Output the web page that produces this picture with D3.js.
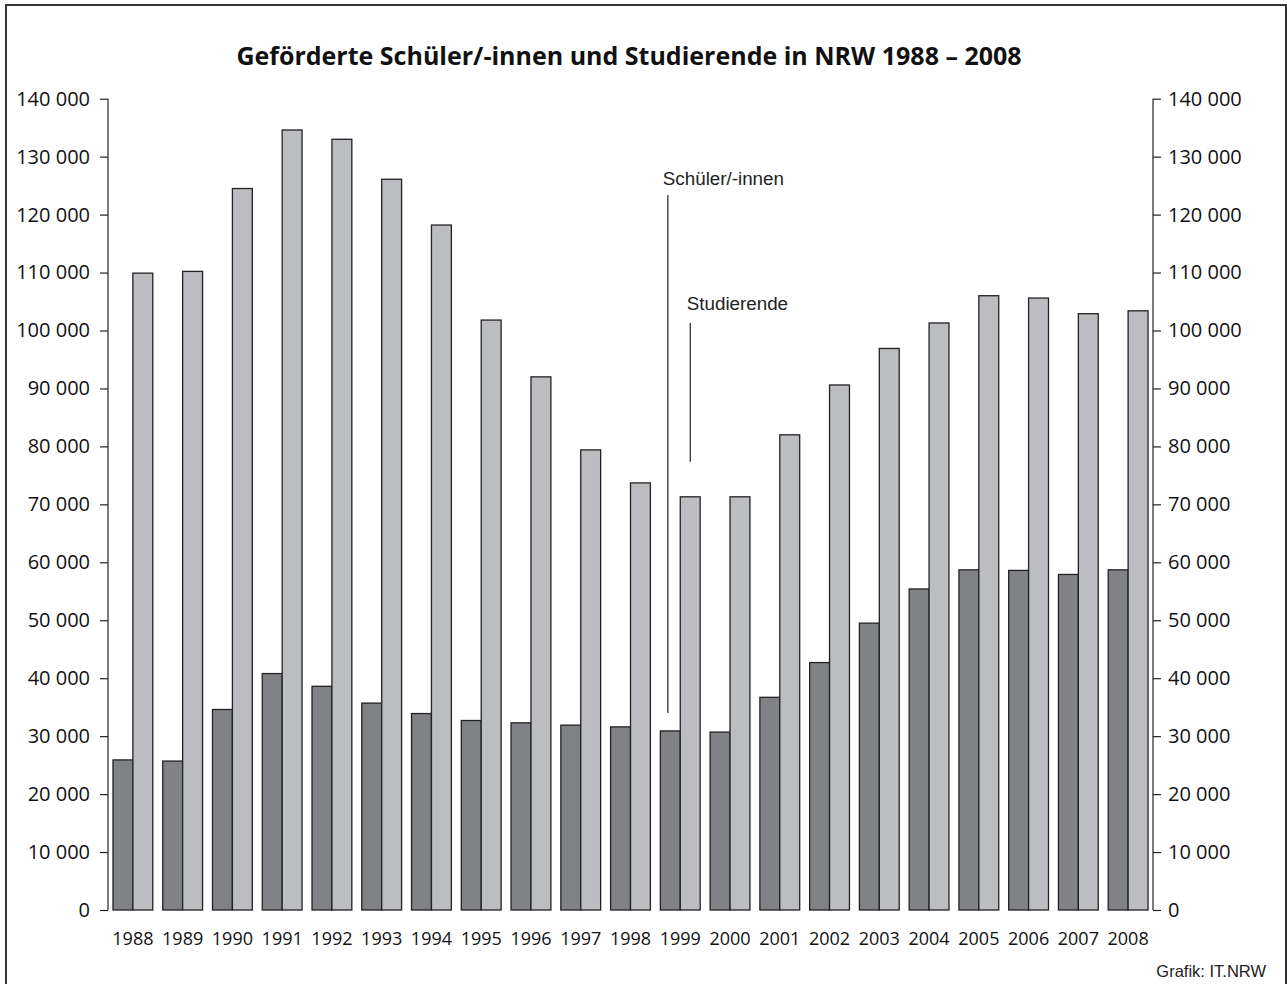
<!DOCTYPE html>
<html>
<head>
<meta charset="utf-8">
<script src="https://cdn.jsdelivr.net/npm/d3@7"></script>
<style>
  html, body { margin: 0; padding: 0; background: #fff; }
  svg { display: block; }
</style>
</head>
<body>
<svg id="chart" width="1287" height="984"></svg>
<script>
const years = ["1988","1989","1990","1991","1992","1993","1994","1995","1996","1997","1998","1999","2000","2001","2002","2003","2004","2005","2006","2007","2008"];
const schueler = [25900,25700,34600,40800,38600,35700,33900,32700,32300,31900,31600,30900,30700,36700,42700,49500,55400,58700,58600,57900,58700];
const studierende = [109900,110200,124500,134600,133000,126100,118200,101800,92000,79400,73700,71300,71300,82000,90600,96900,101300,106000,105600,102900,103400];
const seriesNames = ["Schüler/-innen", "Studierende"];
const tickValues = [0,10000,20000,30000,40000,50000,60000,70000,80000,90000,100000,110000,120000,130000,140000];
const titleText = "Geförderte Schüler/-innen und Studierende in NRW 1988 – 2008";
const sourceText = "Grafik: IT.NRW";

const svg = d3.select("#chart");
const plotLeft = 108, plotRight = 1153, plotTop = 98.7, plotBottom = 910;

// frame
svg.append("rect")
  .attr("x", 6).attr("y", 5).attr("width", 1280).attr("height", 1000)
  .attr("fill", "none").attr("stroke", "#333").attr("stroke-width", 2);

// title
svg.append("text")
  .attr("x", 629).attr("y", 65)
  .attr("text-anchor", "middle")
  .attr("font-family", "'Open Sans', sans-serif")
  .attr("font-weight", "bold")
  .attr("font-size", 25)
  .attr("fill", "#111")
  .text(titleText);

const y = d3.scaleLinear().domain([0, 140000]).range([plotBottom, plotTop]);
const x0 = d3.scaleBand().domain(years).range([plotLeft, plotRight]).paddingInner(0.2).paddingOuter(0.1);
const x1 = d3.scaleBand().domain(seriesNames).range([0, x0.bandwidth()]).padding(0);

const locale = d3.formatLocale({decimal: ",", thousands: " ", grouping: [3], currency: ["", "€"]});
const fmt = locale.format(",d");

// left axis
const yAxisL = d3.axisLeft(y).tickValues(tickValues).tickFormat(fmt).tickSize(8).tickPadding(10);
const gL = svg.append("g").attr("transform", `translate(${plotLeft},0)`).call(yAxisL);
gL.select(".domain").attr("stroke", "#222").attr("stroke-width", 1.2).attr("d", `M0,${plotTop}V${plotBottom}`);
gL.selectAll(".tick line").attr("stroke", "#222").attr("stroke-width", 1.2);
gL.selectAll(".tick text").attr("font-family", "'Open Sans', sans-serif").attr("font-size", 20).attr("fill", "#111");

// right axis
const yAxisR = d3.axisRight(y).tickValues(tickValues).tickFormat(fmt).tickSize(8).tickPadding(7);
const gR = svg.append("g").attr("transform", `translate(${plotRight},0)`).call(yAxisR);
gR.select(".domain").attr("stroke", "#222").attr("stroke-width", 1.2).attr("d", `M0,${plotTop}V${plotBottom}`);
gR.selectAll(".tick line").attr("stroke", "#222").attr("stroke-width", 1.2);
gR.selectAll(".tick text").attr("font-family", "'Open Sans', sans-serif").attr("font-size", 20).attr("fill", "#111");

// bars
const colors = {"Schüler/-innen": "#818286", "Studierende": "#bcbdc1"};
const rows = years.map((yr, i) => ({year: yr, values: [
  {key: seriesNames[0], value: schueler[i]},
  {key: seriesNames[1], value: studierende[i]}
]}));
const groups = svg.append("g").selectAll("g").data(rows).join("g")
  .attr("transform", d => `translate(${x0(d.year)},0)`);
groups.selectAll("rect").data(d => d.values).join("rect")
  .attr("x", d => x1(d.key))
  .attr("y", d => y(d.value))
  .attr("width", x1.bandwidth())
  .attr("height", d => y(0) - y(d.value))
  .attr("fill", d => colors[d.key])
  .attr("stroke", "#222")
  .attr("stroke-width", 1.3);

// x labels
const xAxis = d3.axisBottom(x0).tickSize(0).tickPadding(22);
const gX = svg.append("g").attr("transform", `translate(0,${plotBottom})`).call(xAxis);
gX.select(".domain").remove();
gX.selectAll(".tick text").attr("font-family", "'Open Sans', sans-serif").attr("font-size", 18).attr("fill", "#111");

// annotations
const annYear = "1999";
const iAnn = years.indexOf(annYear);
const xS = x0(annYear) + x1(seriesNames[0]) + 7.5;
const xT = x0(annYear) + x1(seriesNames[1]) + 10;
svg.append("line").attr("x1", xS).attr("x2", xS).attr("y1", 195).attr("y2", y(schueler[iAnn]) - 18)
  .attr("stroke", "#222").attr("stroke-width", 1.2);
svg.append("line").attr("x1", xT).attr("x2", xT).attr("y1", 323).attr("y2", y(studierende[iAnn]) - 35)
  .attr("stroke", "#222").attr("stroke-width", 1.2);
svg.append("text").attr("x", xS - 5).attr("y", 185)
  .attr("font-family", "'Liberation Sans', Arial, sans-serif").attr("font-size", 18.8).attr("fill", "#222")
  .text(seriesNames[0]);
svg.append("text").attr("x", xT - 3.5).attr("y", 310)
  .attr("font-family", "'Liberation Sans', Arial, sans-serif").attr("font-size", 18.8).attr("fill", "#222")
  .text(seriesNames[1]);

// source
svg.append("text").attr("x", 1266).attr("y", 977).attr("text-anchor", "end")
  .attr("font-family", "'Liberation Sans', Arial, sans-serif").attr("font-size", 16.5).attr("fill", "#222")
  .text(sourceText);
</script>
</body>
</html>
